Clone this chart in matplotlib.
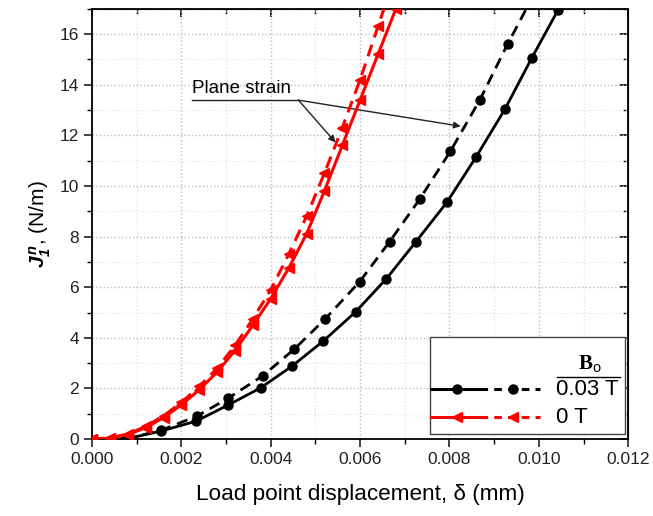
import numpy as np
import matplotlib
matplotlib.use("Agg")
import matplotlib.pyplot as plt
from matplotlib.lines import Line2D
from matplotlib.patches import Rectangle
from matplotlib.ticker import MultipleLocator

plt.rcParams['font.family'] = ['Liberation Sans', 'DejaVu Sans']
plt.rcParams['mathtext.fontset'] = 'custom'
plt.rcParams['mathtext.rm'] = 'Liberation Sans'
plt.rcParams['mathtext.it'] = 'Liberation Sans:italic'
plt.rcParams['mathtext.bf'] = 'Liberation Sans:bold:italic'

# ---- data ----
# B0 = 0.03 T, solid (plane stress)
x_b_solid = [0.00074, 0.00155, 0.00233, 0.00305, 0.00377, 0.00448, 0.00518, 0.0059,
             0.00659, 0.00725, 0.00794, 0.00859, 0.00924, 0.00984, 0.01043]
j_b_solid = [0.0, 0.32, 0.71, 1.35, 2.02, 2.89, 3.88, 5.03,
             6.34, 7.8, 9.35, 11.13, 13.03, 15.05, 16.95]
# B0 = 0.03 T, dashed (plane strain)
x_b_dash = [0.00074, 0.00155, 0.00235, 0.00305, 0.00382, 0.00453, 0.00522, 0.00599,
            0.00666, 0.00733, 0.00802, 0.00868, 0.0093, 0.0099]
j_b_dash = [0.0, 0.35, 0.91, 1.62, 2.5, 3.56, 4.75, 6.22,
            7.8, 9.47, 11.37, 13.4, 15.6, 17.6]
# B0 = 0 T, solid
x_r_solid = [0.0, 0.0004, 0.0008, 0.0012, 0.0016, 0.002, 0.0024, 0.0028, 0.0032,
             0.0036, 0.004, 0.0044, 0.0048, 0.0052, 0.0056, 0.006, 0.0064, 0.0068, 0.0070]
j_r_solid = [0.0, 0.04, 0.18, 0.45, 0.85, 1.35, 1.95, 2.65, 3.5,
             4.5, 5.55, 6.75, 8.1, 9.8, 11.6, 13.4, 15.2, 17.0, 17.9]
# B0 = 0 T, dashed (plane strain)
x_r_dash = [0.0, 0.0004, 0.0008, 0.0012, 0.0016, 0.002, 0.0024, 0.0028, 0.0032,
            0.0036, 0.004, 0.0044, 0.0048, 0.0052, 0.0056, 0.006, 0.0064, 0.0068]
j_r_dash = [0.0, 0.05, 0.2, 0.5, 0.92, 1.45, 2.08, 2.8, 3.7,
            4.75, 5.9, 7.3, 8.8, 10.5, 12.3, 14.2, 16.3, 18.4]

fig = plt.figure(figsize=(6.53, 5.16), dpi=100)
ax = fig.add_axes([0.141, 0.149, 0.821, 0.834])

ax.plot(x_b_solid, j_b_solid, '-', color='black', lw=2.0, marker='o', ms=6.5, zorder=3)
ax.plot(x_b_dash, j_b_dash, '--', color='black', lw=2.0, marker='o', ms=6.5,
        dashes=(4, 2.5), zorder=3)
ax.plot(x_r_solid, j_r_solid, '-', color='#ff0000', lw=2.2, marker='<', ms=7, zorder=4)
ax.plot(x_r_dash, j_r_dash, '--', color='#ff0000', lw=2.2, marker='<', ms=7,
        dashes=(4, 2.5), zorder=4)

ax.set_xlim(0, 0.012)
ax.set_ylim(0, 17)
ax.xaxis.set_major_locator(MultipleLocator(0.002))
ax.xaxis.set_minor_locator(MultipleLocator(0.001))
ax.yaxis.set_major_locator(MultipleLocator(2))
ax.yaxis.set_minor_locator(MultipleLocator(1))
ax.set_xticklabels([f'{v:.3f}' for v in ax.get_xticks()])

ax.grid(which='major', color='#bbbbbb', ls=':', lw=1.0)
ax.grid(which='minor', color='#e2e2e2', ls=':', lw=0.9)
ax.set_axisbelow(True)

ax.tick_params(which='major', direction='out', length=6, width=1.2, labelsize=12.5,
               colors='#222222')
ax.tick_params(which='minor', direction='out', length=3.5, width=1.0)
for s in ax.spines.values():
    s.set_linewidth(1.3)

# mirrored inward ticks on top and right
top = ax.secondary_xaxis('top')
top.xaxis.set_major_locator(MultipleLocator(0.002))
top.xaxis.set_minor_locator(MultipleLocator(0.001))
top.tick_params(which='major', direction='in', length=6, width=1.2, labeltop=False)
top.tick_params(which='minor', direction='in', length=3.5, width=1.0)
right = ax.secondary_yaxis('right')
right.yaxis.set_major_locator(MultipleLocator(2))
right.yaxis.set_minor_locator(MultipleLocator(1))
right.tick_params(which='major', direction='in', length=6, width=1.2, labelright=False)
right.tick_params(which='minor', direction='in', length=3.5, width=1.0)

ax.set_xlabel(r'Load point displacement, δ (mm)', fontsize=16.2, labelpad=12)
ax.set_ylabel(r'$\mathbf{J_{1}^{\,n}}$, (N/m)', fontsize=15, labelpad=5)

# Plane strain annotation
ax.text(0.00224, 13.5, 'Plane strain', fontsize=13.5, ha='left', va='bottom')
ax.plot([0.00224, 0.00462], [13.39, 13.39], color='#222222', lw=1.0)
for tip in [(0.00825, 12.36), (0.00545, 11.72)]:
    ax.annotate('', xy=tip, xytext=(0.00462, 13.39),
                arrowprops=dict(arrowstyle='-|>', color='#222222', lw=1.0,
                                mutation_scale=10, shrinkA=0, shrinkB=0))

# Legend drawn by hand
tr = ax.transAxes
ax.add_patch(Rectangle((0.631, 0.012), 0.363, 0.225, transform=tr, fill=True,
                       facecolor='white', edgecolor='#444444', lw=1.0, zorder=5))
rows = [(0.116, 'black', 'o', 6.5, '0.03 T'), (0.051, '#ff0000', '<', 7, '0 T')]
for y, c, m, ms, lab in rows:
    ax.add_line(Line2D([0.633, 0.724], [y, y], transform=tr, color=c, lw=2.2, zorder=6))
    ax.add_line(Line2D([0.681], [y], transform=tr, color=c, marker=m, ms=ms, zorder=6))
    ax.add_line(Line2D([0.724, 0.836], [y, y], transform=tr, color=c, lw=2.2,
                       ls='--', dashes=(2.5, 2), zorder=6))
    ax.add_line(Line2D([0.785], [y], transform=tr, color=c, marker=m, ms=ms, zorder=6))
    ax.text(0.866, y, lab, transform=tr, fontsize=16, ha='left', va='center', zorder=6)
ax.add_line(Line2D([0.868, 0.985], [0.144, 0.144], transform=tr, color='black', lw=1.0, zorder=6))
ax.text(0.928, 0.15, r'B$_\mathrm{o}$', transform=tr, fontsize=15, fontweight='bold',
        family='Liberation Serif', ha='center', va='bottom', zorder=6)

fig.savefig('out.png', dpi=100, facecolor='white')
